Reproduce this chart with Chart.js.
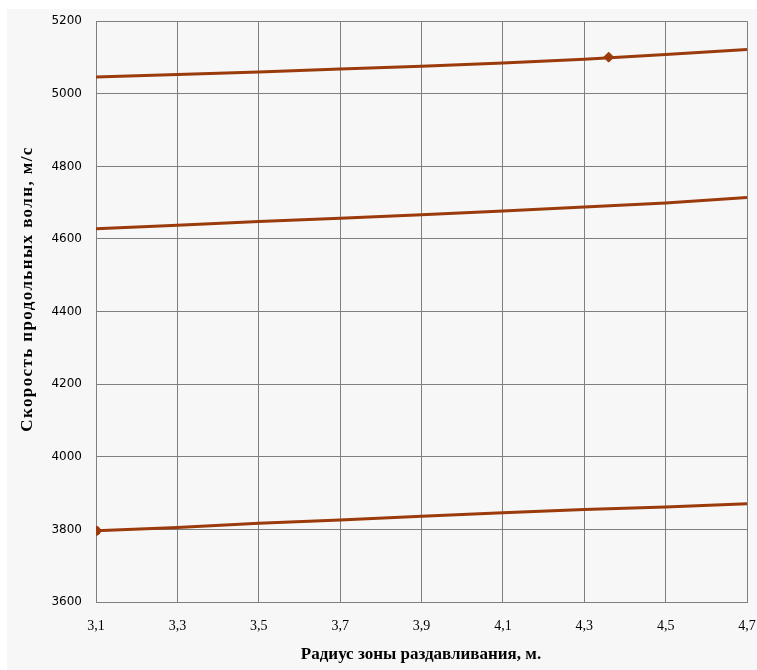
<!DOCTYPE html>
<html>
<head>
<meta charset="utf-8">
<script src="https://cdn.jsdelivr.net/npm/chart.js@4"></script>
<style>
  html, body { margin: 0; padding: 0; background: #fff; }
  #wrap { width: 757px; height: 670px; }
</style>
</head>
<body>
<div id="wrap"><canvas id="chart" width="757" height="670"></canvas></div>
<script>
// radius values (m) and wave speeds (m/s)
const radius = [3.1, 3.3, 3.5, 3.7, 3.9, 4.1, 4.3, 4.5, 4.7];
const speedTop = [5046, 5053, 5060, 5068, 5076, 5085, 5095, 5108, 5122];
const speedMid = [4628, 4638, 4648, 4657, 4667, 4677, 4688, 4699, 4714];
const speedLow = [3796, 3805, 3817, 3826, 3836, 3846, 3855, 3862, 3871];

// single markers on the curves
const markTop = { x: 4.36, y: 5101 };
const markLow = { x: 3.1, y: 3796 };

const xTicks = [3.1, 3.3, 3.5, 3.7, 3.9, 4.1, 4.3, 4.5, 4.7];
const yMin = 3600, yMax = 5200, yStep = 200;

const xTitle = "Радиус зоны раздавливания, м.";
const yTitle = "Скорость продольных волн, м/с";

const lineColor = "#9b3a0b";
const gridColor = "#7f7f7f";

function pts(ys) {
    return radius.map((r, i) => ({ x: r, y: ys[i] }));
}

function lineSet(ys) {
    return {
        data: pts(ys),
        borderColor: lineColor,
        borderWidth: 3,
        pointRadius: 0,
        tension: 0,
        showLine: true
    };
}

// panel background + axis titles
const decor = {
    id: "decor",
    beforeDraw(chart) {
        const ctx = chart.ctx;
        ctx.save();
        ctx.fillStyle = "#ffffff";
        ctx.fillRect(0, 0, chart.width, chart.height);
        ctx.fillStyle = "#f7f7f7";
        ctx.fillRect(7, 9, chart.width - 7, chart.height - 9);
        ctx.restore();
    },
    afterDraw(chart) {
        const ctx = chart.ctx;
        ctx.save();
        ctx.fillStyle = "#000";
        ctx.font = "bold 17px 'Liberation Serif'";
        ctx.textAlign = "center";
        ctx.textBaseline = "middle";
        ctx.fillText(xTitle, 421, 655);
        ctx.translate(28, 289);
        ctx.rotate(-Math.PI / 2);
        ctx.letterSpacing = "1.4px";
        ctx.fillText(yTitle, 0, 0);
        ctx.restore();
    }
};

new Chart(document.getElementById("chart").getContext("2d"), {
    type: "scatter",
    data: {
        datasets: [
            lineSet(speedTop),
            lineSet(speedMid),
            lineSet(speedLow),
            {
                data: [markTop],
                pointStyle: "rectRot",
                pointRadius: 5,
                backgroundColor: lineColor,
                borderColor: lineColor,
                borderWidth: 1
            },
            {
                data: [markLow],
                pointStyle: "circle",
                pointRadius: 4.5,
                backgroundColor: lineColor,
                borderColor: lineColor,
                borderWidth: 1
            }
        ]
    },
    options: {
        responsive: false,
        animation: false,
        layout: { padding: { left: 7, top: 21, right: 10, bottom: 0 } },
        plugins: { legend: { display: false }, tooltip: { enabled: false } },
        scales: {
            x: {
                type: "linear",
                min: 3.1,
                max: 4.7,
                afterBuildTicks: (axis) => { axis.ticks = xTicks.map(v => ({ value: v })); },
                afterFit: (axis) => { axis.height = 68; axis.paddingLeft = 0; axis.paddingRight = 0; },
                grid: { color: gridColor, lineWidth: 1, drawTicks: false },
                border: { color: gridColor, width: 1 },
                ticks: {
                    padding: 16,
                    color: "#000",
                    font: { family: "'Liberation Serif'", size: 14 },
                    callback: (v) => Number(v).toFixed(1).replace(".", ",")
                }
            },
            y: {
                min: yMin,
                max: yMax,
                afterFit: (axis) => { axis.width = 89; },
                grid: { color: gridColor, lineWidth: 1, drawTicks: false },
                border: { color: gridColor, width: 1 },
                ticks: {
                    stepSize: yStep,
                    padding: 14,
                    color: "#000",
                    font: { family: "'DejaVu Sans'", size: 12 },
                    callback: (v) => String(v)
                }
            }
        }
    },
    plugins: [decor]
});
</script>
</body>
</html>
